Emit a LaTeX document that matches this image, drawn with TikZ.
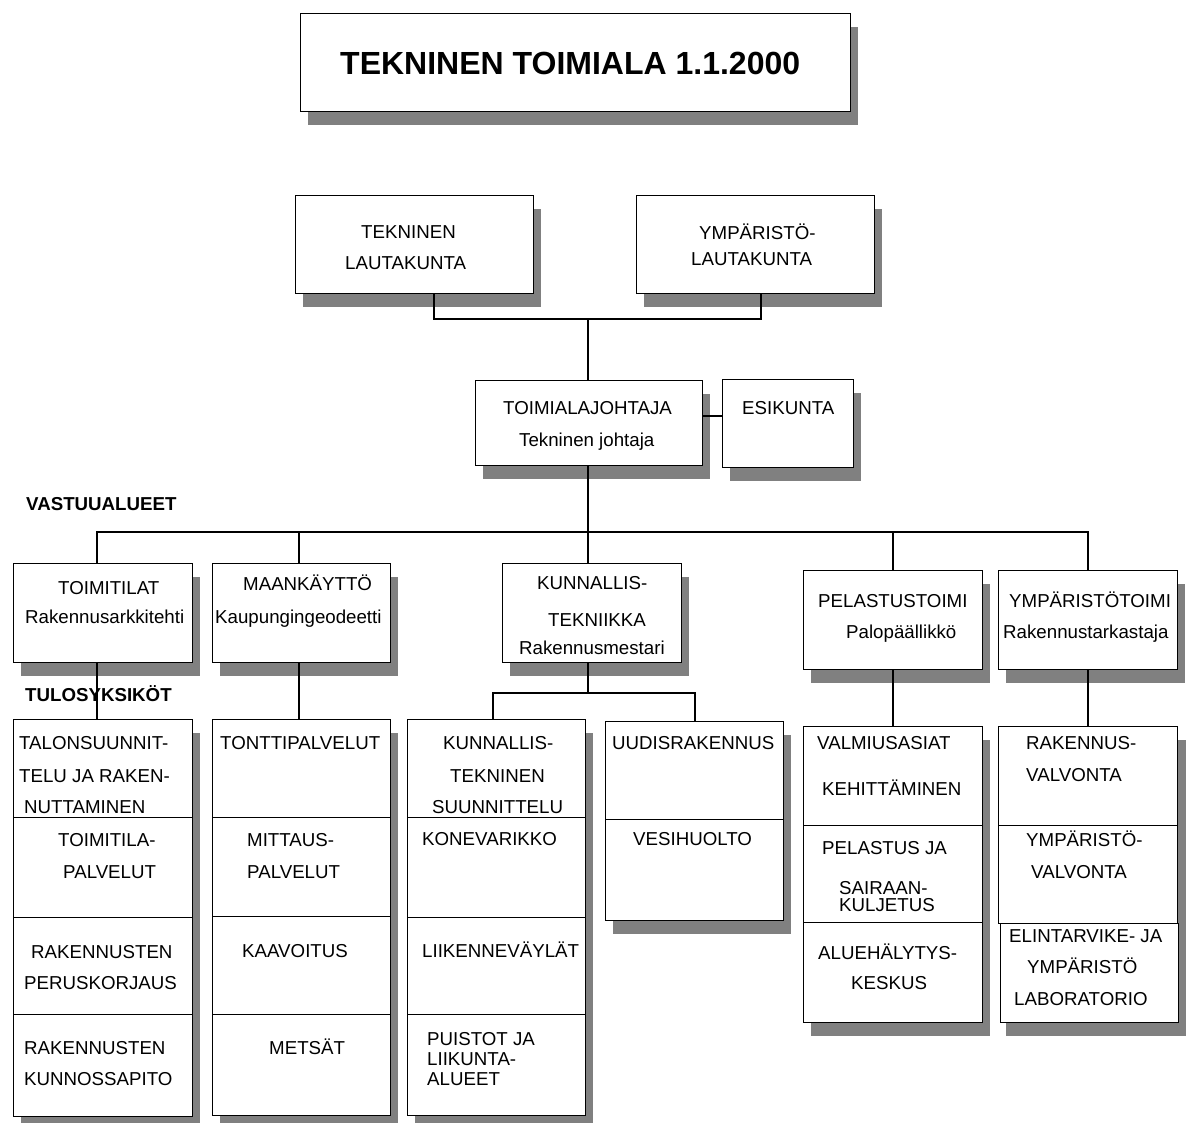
\documentclass[tikz,border=0pt]{standalone}
\usepackage{fontspec}
\setmainfont{Liberation Sans}
\usetikzlibrary{fit,shadows}
\definecolor{shd}{HTML}{808080}
\tikzset{
  box/.style={draw=black, line width=1pt, fill=white, inner sep=0pt, outer sep=0pt},
  shbox/.style={box, general shadow={fill=shd, shadow xshift=8pt, shadow yshift=-14pt}},
  stackbg/.style={fill=white, inner sep=0pt, outer sep=0pt, general shadow={fill=shd, shadow xshift=8pt, shadow yshift=-14pt}},
  cell/.style={draw=black, line width=1pt, inner sep=0pt, outer sep=0pt},
  txt/.style={inner sep=0pt, anchor=base west, font=\fontsize{18.7}{22}\selectfont},
  btxt/.style={txt, font=\fontsize{18.7}{22}\selectfont\bfseries},
  ttxt/.style={txt, font=\fontsize{32}{38}\selectfont\bfseries},
  conn/.style={draw=black, line width=2pt},
}
\newcommand\mkshbox[5]{\node[shbox, fit={(#2,#3) (#4,#5)}] (#1) {};}
\newcommand\mkstack[5]{\node[stackbg, fit={(#2,#3) (#4,#5)}] (#1) {};}
\newcommand\mkcell[5]{\node[cell, fit={(#2,#3) (#4,#5)}] (#1) {};}
\newcommand\tx[4]{\node[txt] (#1) at (#2,{#3+6.7}) {#4};}
\newcommand\btx[4]{\node[btxt] (#1) at (#2,{#3+6.7}) {#4};}
\begin{document}
\begin{tikzpicture}[x=1pt,y=-1pt]
\fill[white] (0,0) rectangle (1191,1122);
\useasboundingbox (0,0) rectangle (1191,1122);

% boxes
\mkshbox{title}{300}{13}{850}{111}
\mkshbox{tl}{295}{195}{533}{293}
\mkshbox{ymp}{636}{195}{874}{293}
\mkshbox{tj}{475}{380}{702}{465}
\mkshbox{esi}{722}{379}{853}{467}
\mkshbox{r1}{13}{563}{192}{662}
\mkshbox{r2}{212}{563}{390}{662}
\mkshbox{r3}{502}{563}{681}{662}
\mkshbox{r4}{803}{570}{982}{669}
\mkshbox{r5}{998}{570}{1177}{669}

% stacks
\mkstack{s1}{13}{719}{192}{1116}
\mkcell{s1a}{13}{719}{192}{817}
\mkcell{s1b}{13}{817}{192}{917}
\mkcell{s1c}{13}{917}{192}{1014}
\mkcell{s1d}{13}{1014}{192}{1116}

\mkstack{s2}{212}{719}{390}{1115}
\mkcell{s2a}{212}{719}{390}{817}
\mkcell{s2b}{212}{817}{390}{916}
\mkcell{s2c}{212}{916}{390}{1014}
\mkcell{s2d}{212}{1014}{390}{1115}

\mkstack{s3}{407}{719}{585}{1115}
\mkcell{s3a}{407}{719}{585}{817}
\mkcell{s3b}{407}{817}{585}{917}
\mkcell{s3c}{407}{917}{585}{1014}
\mkcell{s3d}{407}{1014}{585}{1115}

\mkstack{s4}{605}{721}{783}{920}
\mkcell{s4a}{605}{721}{783}{819}
\mkcell{s4b}{605}{819}{783}{920}

\mkstack{s5}{803}{726}{982}{1022}
\mkcell{s5a}{803}{726}{982}{825}
\mkcell{s5b}{803}{825}{982}{922}
\mkcell{s5c}{803}{922}{982}{1022}

\mkstack{s6}{998}{726}{1178}{1022}
\mkcell{s6a}{998}{726}{1177}{825}
\mkcell{s6b}{998}{825}{1177}{923}
\mkcell{s6c}{1000}{923}{1178}{1022}

% texts
\node[ttxt] (ttitle) at (340,74.5) {TEKNINEN TOIMIALA 1.1.2000};
\tx{tl1}{361}{232}{TEKNINEN}
\tx{tl2}{345}{263}{LAUTAKUNTA}
\tx{ym1}{699}{233}{YMPÄRISTÖ-}
\tx{ym2}{691}{259}{LAUTAKUNTA}
\tx{tj1}{503}{408}{TOIMIALAJOHTAJA}
\tx{tj2}{519}{440}{Tekninen johtaja}
\tx{es1}{742}{408}{ESIKUNTA}
\btx{vast}{26}{504}{VASTUUALUEET}
\tx{r1a}{58}{588}{TOIMITILAT}
\tx{r1b}{25}{617}{Rakennusarkkitehti}
\tx{r2a}{243}{584}{MAANKÄYTTÖ}
\tx{r2b}{215}{617}{Kaupungingeodeetti}
\tx{r3a}{537}{583}{KUNNALLIS-}
\tx{r3b}{548}{620}{TEKNIIKKA}
\tx{r3c}{519}{648}{Rakennusmestari}
\tx{r4a}{818}{601}{PELASTUSTOIMI}
\tx{r4b}{846}{632}{Palopäällikkö}
\tx{r5a}{1009}{601}{YMPÄRISTÖTOIMI}
\tx{r5b}{1003}{632}{Rakennustarkastaja}
\btx{tulo}{25}{695}{TULOSYKSIKÖT}

\tx{c1a}{19}{743}{TALONSUUNNIT-}
\tx{c1b}{19}{776}{TELU JA RAKEN-}
\tx{c1c}{24}{807}{NUTTAMINEN}
\tx{c1d}{58}{840}{TOIMITILA-}
\tx{c1e}{63}{872}{PALVELUT}
\tx{c1f}{31}{952}{RAKENNUSTEN}
\tx{c1g}{24}{983}{PERUSKORJAUS}
\tx{c1h}{24}{1048}{RAKENNUSTEN}
\tx{c1i}{24}{1079}{KUNNOSSAPITO}

\tx{c2a}{220}{743}{TONTTIPALVELUT}
\tx{c2b}{247}{840}{MITTAUS-}
\tx{c2c}{247}{872}{PALVELUT}
\tx{c2d}{242}{951}{KAAVOITUS}
\tx{c2e}{269}{1048}{METSÄT}

\tx{c3a}{443}{743}{KUNNALLIS-}
\tx{c3b}{450}{776}{TEKNINEN}
\tx{c3c}{432}{807}{SUUNNITTELU}
\tx{c3d}{422}{839}{KONEVARIKKO}
\tx{c3e}{422}{951}{LIIKENNEVÄYLÄT}
\node[txt, align=left, font=\fontsize{18.7}{20}\selectfont] (c3f) at (427,1085.7) {PUISTOT JA\\LIIKUNTA-\\ALUEET};

\tx{c4a}{612}{743}{UUDISRAKENNUS}
\tx{c4b}{633}{839}{VESIHUOLTO}

\tx{c5a}{817}{743}{VALMIUSASIAT}
\tx{c5b}{822}{789}{KEHITTÄMINEN}
\tx{c5c}{822}{848}{PELASTUS JA}
\node[txt, align=left, font=\fontsize{18.7}{17}\selectfont] (c5d) at (839,911) {SAIRAAN-\\KULJETUS};
\tx{c5f}{818}{953}{ALUEHÄLYTYS-}
\tx{c5g}{851}{983}{KESKUS}

\tx{c6a}{1026}{743}{RAKENNUS-}
\tx{c6b}{1026}{775}{VALVONTA}
\tx{c6c}{1026}{840}{YMPÄRISTÖ-}
\tx{c6d}{1031}{872}{VALVONTA}
\tx{c6e}{1009}{936}{ELINTARVIKE- JA}
\tx{c6f}{1027}{967}{YMPÄRISTÖ}
\tx{c6g}{1014}{999}{LABORATORIO}

% connectors
\draw[conn] ([xshift=20pt]tl.south) -- ++(0,26) -| ([xshift=6pt]ymp.south);
\coordinate (j1) at (588,319);
\draw[conn] (j1) -- (j1 |- tj.north);
\coordinate (j2) at (702,416);
\draw[conn] (j2) -- (j2 -| esi.west);
\coordinate (bar) at (588,532);
\draw[conn] (bar |- tj.south) -- (bar);
\draw[conn] ([xshift=-5.5pt]r1.north) |- (bar) -| (r5.north);
\draw[conn] (bar) -- (r3.north -| bar);
\draw[conn] ([xshift=-2pt]r2.north) -- ++(0,-31);
\draw[conn] (r4.north) -- ++(0,-38);
\draw[conn] ([xshift=-5.5pt]r1.south) -- ++(0,57);
\draw[conn] ([xshift=-2pt]r2.south) -- ++(0,57);
\coordinate (b3) at (588,693);
\draw[conn] (b3 |- r3.south) -- (b3);
\draw[conn] ([xshift=-3pt]s3a.north) |- (b3) -| ([xshift=1pt]s4a.north);
\draw[conn] (r4.south) -- (r4.south |- s5a.north);
\draw[conn] (r5.south) -- (r5.south |- s6a.north);
\end{tikzpicture}
\end{document}
